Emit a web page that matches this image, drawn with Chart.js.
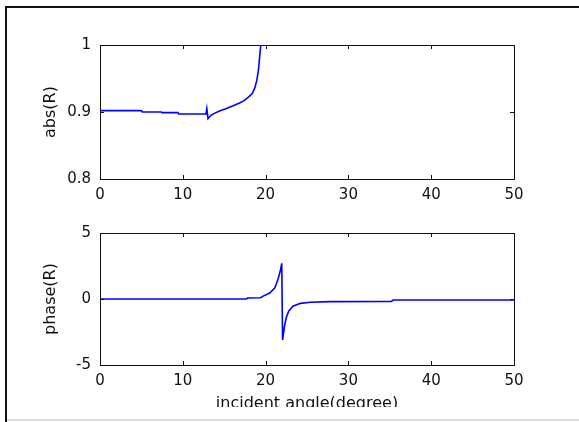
<!DOCTYPE html>
<html>
<head>
<meta charset="utf-8">
<script src="https://cdn.jsdelivr.net/npm/chart.js@4.4.1/dist/chart.umd.min.js"></script>
<style>
  html, body { margin: 0; padding: 0; background: #fff; }
  body { width: 579px; height: 422px; position: relative; overflow: hidden; }
  #frame { position: absolute; left: 5px; top: 6px; right: -4px; height: 414px;
           border-left: 2px solid #111; border-top: 2px solid #111; }
  canvas { position: absolute; left: 0; }
  #absChart { top: 0; }
  #phaseChart { top: 215px; }
  #strip { position: absolute; left: 7px; right: 0; top: 407px; height: 12px;
           background: #fff; border-bottom: 2px solid #dcdcdc; }
</style>
</head>
<body>
<div id="frame"></div>
<canvas id="absChart" width="579" height="215"></canvas>
<canvas id="phaseChart" width="579" height="207"></canvas>
<div id="strip"></div>

<script>
// abs(R) versus incident angle
const absAngle = [0, 5.0, 5.1, 7.4, 7.5, 9.4, 9.5, 12.8, 12.9, 13.05, 13.4, 13.8, 14.5, 15.2, 16.0, 16.8, 17.4, 18.0, 18.4, 18.7, 18.95, 19.15, 19.3, 19.42, 50];
const absR = [0.902, 0.902, 0.9, 0.9, 0.899, 0.899, 0.897, 0.897, 0.905, 0.890, 0.895, 0.898, 0.902, 0.905, 0.909, 0.913, 0.917, 0.923, 0.928, 0.936, 0.948, 0.964, 0.985, 1.0, 1.0];

// phase(R) versus incident angle
const phaseAngle = [0, 17.7, 17.8, 19.4, 19.7, 20.5, 21.1, 21.5, 21.8, 21.95, 22.05, 22.3, 22.5, 22.8, 23.3, 24.2, 25.4, 27.8, 35.2, 35.4, 50];
const phaseR = [0, 0, 0.08, 0.1, 0.22, 0.45, 0.82, 1.5, 2.2, 2.7, -3.1, -2.0, -1.4, -0.9, -0.55, -0.33, -0.25, -0.2, -0.18, -0.08, -0.08];

const xTicks = [0, 10, 20, 30, 40, 50];
const absTicks = [0.8, 0.9, 1];
const phaseTicks = [-5, 0, 5];

const FONT = 'DejaVu Sans, Liberation Sans, Arial, sans-serif';
const tickFont = { family: FONT, size: 15 };
const titleFont = { family: FONT, size: 16 };

// box round the axes with short inward ticks on all four sides
const boxAxes = {
    id: 'boxAxes',
    afterDraw(chart) {
        const { ctx, chartArea: a, scales: { x, y } } = chart;
        const len = 4;
        ctx.save();
        ctx.strokeStyle = '#111';
        ctx.lineWidth = 1;
        ctx.strokeRect(Math.round(a.left) + 0.5, Math.round(a.top) + 0.5,
                       Math.round(a.width), Math.round(a.height));
        ctx.beginPath();
        x.ticks.forEach(t => {
            const px = Math.round(x.getPixelForValue(t.value)) + 0.5;
            ctx.moveTo(px, a.bottom); ctx.lineTo(px, a.bottom - len);
            ctx.moveTo(px, a.top); ctx.lineTo(px, a.top + len);
        });
        y.ticks.forEach(t => {
            const py = Math.round(y.getPixelForValue(t.value)) + 0.5;
            ctx.moveTo(a.left, py); ctx.lineTo(a.left + len, py);
            ctx.moveTo(a.right, py); ctx.lineTo(a.right - len, py);
        });
        ctx.stroke();
        ctx.restore();
    }
};

function toPoints(xs, ys) {
    return xs.map((v, i) => ({ x: v, y: ys[i] }));
}

// plain number labels: 1 rather than 1.0
const plainLabel = v => String(Number(v.toFixed(3)));

function makeChart(id, xs, ys, yTicks, yTitle, pad, xAxisHeight, xTitle) {
    const ctx = document.getElementById(id).getContext('2d');
    return new Chart(ctx, {
        type: 'line',
        data: {
            datasets: [{
                data: toPoints(xs, ys),
                borderColor: '#0000ff',
                borderWidth: 1.6,
                pointRadius: 0,
                tension: 0,
                fill: false
            }]
        },
        options: {
            responsive: false,
            animation: false,
            events: [],
            layout: { padding: pad },
            plugins: { legend: { display: false }, tooltip: { enabled: false } },
            scales: {
                x: {
                    type: 'linear',
                    min: xTicks[0],
                    max: xTicks[xTicks.length - 1],
                    afterBuildTicks: s => { s.ticks = xTicks.map(v => ({ value: v })); },
                    grid: { display: false, drawTicks: false },
                    border: { display: false },
                    ticks: { font: tickFont, color: '#111', padding: 7, maxRotation: 0, callback: plainLabel },
                    title: xTitle ? {
                        display: true, text: xTitle, color: '#111', font: titleFont,
                        padding: { top: 0, bottom: 9 }
                    } : { display: false },
                    afterFit: s => { s.height = xAxisHeight; }
                },
                y: {
                    type: 'linear',
                    min: yTicks[0],
                    max: yTicks[yTicks.length - 1],
                    afterBuildTicks: s => { s.ticks = yTicks.map(v => ({ value: v })); },
                    grid: { display: false, drawTicks: false },
                    border: { display: false },
                    ticks: { font: tickFont, color: '#111', padding: 9, callback: plainLabel },
                    title: {
                        display: true, text: yTitle, color: '#111', font: titleFont,
                        padding: { top: 41, bottom: 0 }
                    },
                    afterFit: s => { s.width = 100; }
                }
            }
        },
        plugins: [boxAxes]
    });
}

makeChart('absChart', absAngle, absR, absTicks, 'abs(R)',
          { left: 0, top: 45, right: 65, bottom: 0 }, 36, null);
makeChart('phaseChart', phaseAngle, phaseR, phaseTicks, 'phase(R)',
          { left: 0, top: 16, right: 65, bottom: 0 }, 57, 'incident angle(degree)');
</script>
</body>
</html>
